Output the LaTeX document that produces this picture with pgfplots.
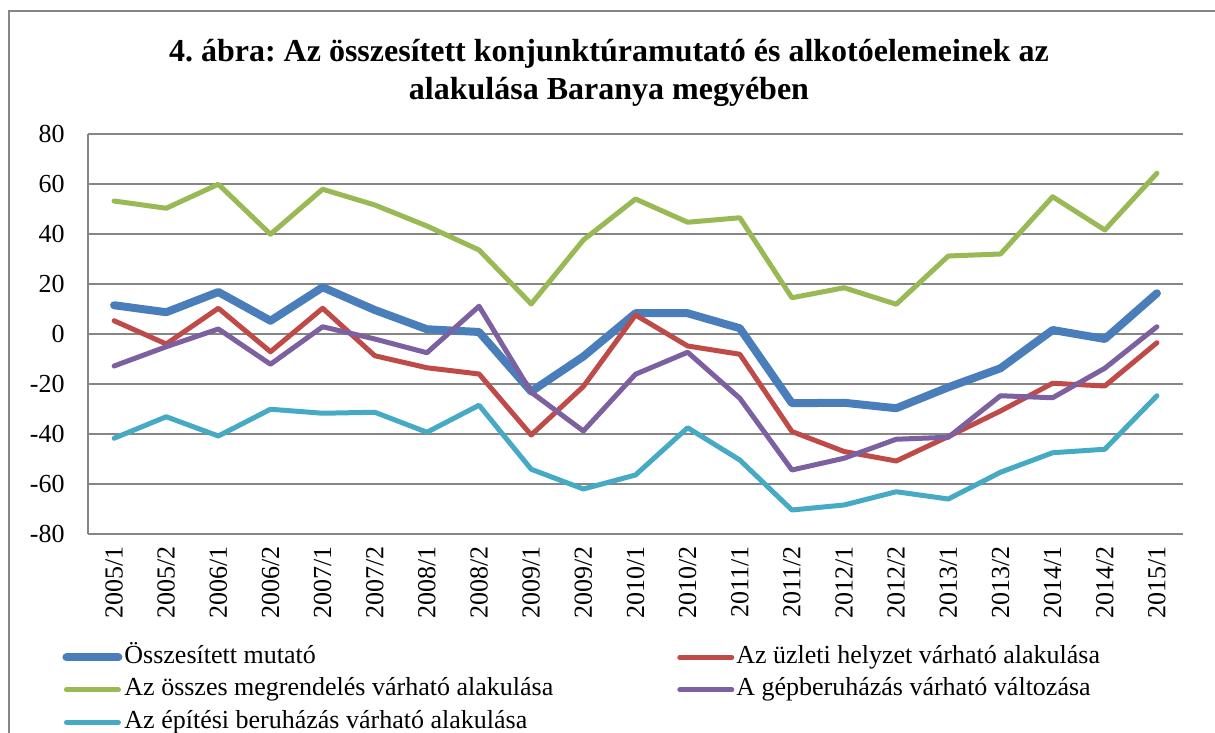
\documentclass[border=0pt]{standalone}
\usepackage{fontspec}
\setmainfont{Liberation Serif}
\usepackage{pgfplots}
\pgfplotsset{compat=1.18}
\definecolor{gridgray}{RGB}{134,134,134}
\definecolor{cblue}{RGB}{74,126,187}
\definecolor{cred}{RGB}{190,75,72}
\definecolor{cgreen}{RGB}{152,185,84}
\definecolor{cpurple}{RGB}{125,96,160}
\definecolor{ccyan}{RGB}{70,170,197}
\frenchspacing
\begin{document}
\begin{tikzpicture}
\useasboundingbox (0,0) rectangle (607.5pt,366.5pt);
\draw[color=gridgray, line width=1pt] (4.5pt,0pt) -- (4.5pt,361pt) -- (607.5pt,361pt);
\node[anchor=base, font=\fontsize{16}{19}\selectfont\bfseries] at (304.5pt,335.5pt) {4. ábra: Az összesített konjunktúramutató és alkotóelemeinek az};
\node[anchor=base, font=\fontsize{16}{19}\selectfont\bfseries] at (304.5pt,316.5pt) {alakulása Baranya megyében};
\begin{axis}[
  at={(44pt,99.5pt)}, anchor=south west,
  scale only axis, width=547.5pt, height=200pt,
  xmin=-0.5, xmax=20.5, ymin=-80, ymax=80,
  ytick={-80,-60,-40,-20,0,20,40,60,80},
  yticklabels={-80,-60,-40,-20,0,20,40,60,80},
  xtick={0,...,20},
  xticklabels={2005/1,2005/2,2006/1,2006/2,2007/1,2007/2,2008/1,2008/2,2009/1,2009/2,2010/1,2010/2,2011/1,2011/2,2012/1,2012/2,2013/1,2013/2,2014/1,2014/2,2015/1},
  major tick length=0pt,
  axis lines*=left,
  axis line style={-, draw=gridgray, line width=1pt},
  ymajorgrids,
  grid style={draw=gridgray, line width=0.9pt},
  tick label style={font=\fontsize{13}{15}\selectfont},
  yticklabel style={anchor=east, inner sep=0pt},
  yticklabel shift=11.5pt,
  xticklabel style={rotate=90, anchor=east, inner sep=0pt},
  xticklabel shift=6pt,
  legend columns=2,
  legend cell align=left,
  legend image code/.code={\draw[#1] (0pt,0pt) -- (26pt,0pt);},
  legend style={at={(-0.0237,-0.2775)}, anchor=north west, draw=none, fill=none,
    font=\fontsize{13}{15}\selectfont, inner sep=0pt, row sep=4.25pt,
    nodes={inner xsep=1pt, inner ysep=0pt, text height=9pt, text depth=3pt},
    /tikz/every even column/.append style={column sep=61pt}},
  every axis plot/.append style={line join=round, line cap=round, mark=none},
]
\addplot[cblue, line width=4pt] coordinates {(0,11.5)(1,8.7)(2,16.8)(3,5.3)(4,18.7)(5,9.6)(6,1.9)(7,0.8)(8,-23)(9,-9)(10,8.3)(11,8.3)(12,2.3)(13,-27.7)(14,-27.5)(15,-29.7)(16,-21.3)(17,-13.7)(18,1.6)(19,-2)(20,16.3)};
\addlegendentry{Összesített mutató}
\addplot[cred, line width=2.5pt] coordinates {(0,5.3)(1,-4)(2,10.3)(3,-7.1)(4,10.3)(5,-8.7)(6,-13.5)(7,-16)(8,-40.4)(9,-21)(10,7.6)(11,-4.8)(12,-8.1)(13,-39)(14,-47)(15,-50.8)(16,-41)(17,-30.8)(18,-19.7)(19,-20.8)(20,-3.5)};
\addlegendentry{Az üzleti helyzet várható alakulása}
\addplot[cgreen, line width=2.5pt] coordinates {(0,53.2)(1,50.3)(2,59.9)(3,39.9)(4,57.9)(5,51.6)(6,43.2)(7,33.6)(8,12)(9,37.6)(10,54)(11,44.7)(12,46.5)(13,14.5)(14,18.5)(15,11.9)(16,31.2)(17,32)(18,54.9)(19,41.6)(20,64.3)};
\addlegendentry{Az összes megrendelés várható alakulása}
\addplot[cpurple, line width=2.5pt] coordinates {(0,-12.8)(1,-5.1)(2,2)(3,-12.1)(4,2.9)(5,-2)(6,-7.5)(7,11.1)(8,-23.3)(9,-38.8)(10,-16.1)(11,-7.3)(12,-25.7)(13,-54.4)(14,-49.7)(15,-42.1)(16,-41.3)(17,-24.7)(18,-25.5)(19,-13.7)(20,2.9)};
\addlegendentry{A gépberuházás várható változása}
\addplot[ccyan, line width=2.5pt] coordinates {(0,-41.7)(1,-33.1)(2,-40.8)(3,-30.1)(4,-31.7)(5,-31.3)(6,-39.3)(7,-28.5)(8,-54.1)(9,-62)(10,-56.4)(11,-37.5)(12,-50.4)(13,-70.4)(14,-68.4)(15,-63.1)(16,-66)(17,-55.3)(18,-47.5)(19,-46.1)(20,-24.7)};
\addlegendentry{Az építési beruházás várható alakulása}
\end{axis}
\end{tikzpicture}
\end{document}
